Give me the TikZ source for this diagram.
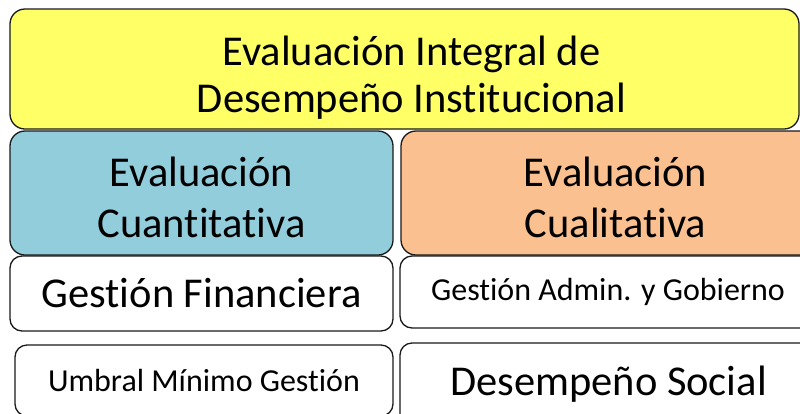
\documentclass[tikz,border=0pt]{standalone}
\usepackage{fontspec}
\setmainfont{Carlito}[Ligatures=NoCommon]
\definecolor{ylw}{HTML}{FFFF66}
\definecolor{blu}{HTML}{92CDDC}
\definecolor{org}{HTML}{FAC090}
\definecolor{edge}{HTML}{1A1A1A}
\newcommand{\toprule}[1]{\rule{0pt}{#1}}
\newcommand{\botrule}[1]{\rule[-#1]{0pt}{#1}}
\tikzset{
  box/.style={draw=edge, line width=1.3pt, rounded corners=15pt, inner sep=0pt, align=center, text=black},
  titletxt/.style={font=\fontsize{42.5}{47}\selectfont},
  bigtxt/.style={font=\fontsize{42.5}{51}\selectfont},
  smltxt/.style={font=\fontsize{32}{38}\selectfont},
}
\begin{document}
\begin{tikzpicture}[x=1pt,y=-1pt]
\useasboundingbox (0,0) rectangle (800,413);
\fill[white] (0,0) rectangle (800,413);
\node[box, fill=ylw, titletxt, minimum width=789pt, minimum height=120pt] (top) at (404.5,69)
  {\hspace*{14pt}\toprule{49pt}Evaluación Integral de\\\hspace*{14pt}Desempeño Institucional\botrule{10pt}};
\node[box, fill=blu, bigtxt, minimum width=383pt, minimum height=124pt] (cuan) at (201.5,193)
  {\toprule{47pt}Evaluación\\Cuantitativa\botrule{10pt}};
\node[box, fill=org, bigtxt, minimum width=429pt, minimum height=124pt] (cual) at (615.5,193)
  {\toprule{47pt}Evaluación\\Cualitativa\botrule{10pt}};
\node[box, fill=white, bigtxt, rounded corners=12pt, minimum width=383pt, minimum height=75pt] (gf) at (201.5,293.5) {Gestión Financiera};
\node[box, fill=white, smltxt, rounded corners=12pt, minimum width=416pt, minimum height=72pt] (ga) at (608,292) {Gestión Admin. y Gobierno};
\node[box, fill=white, smltxt, rounded corners=12pt, minimum width=378pt, minimum height=71pt] (um) at (204,380.5) {Umbral Mínimo Gestión};
\node[box, fill=white, bigtxt, rounded corners=12pt, minimum width=417pt, minimum height=83pt] (ds) at (608.5,384.5) {Desempeño Social};
\end{tikzpicture}
\end{document}
